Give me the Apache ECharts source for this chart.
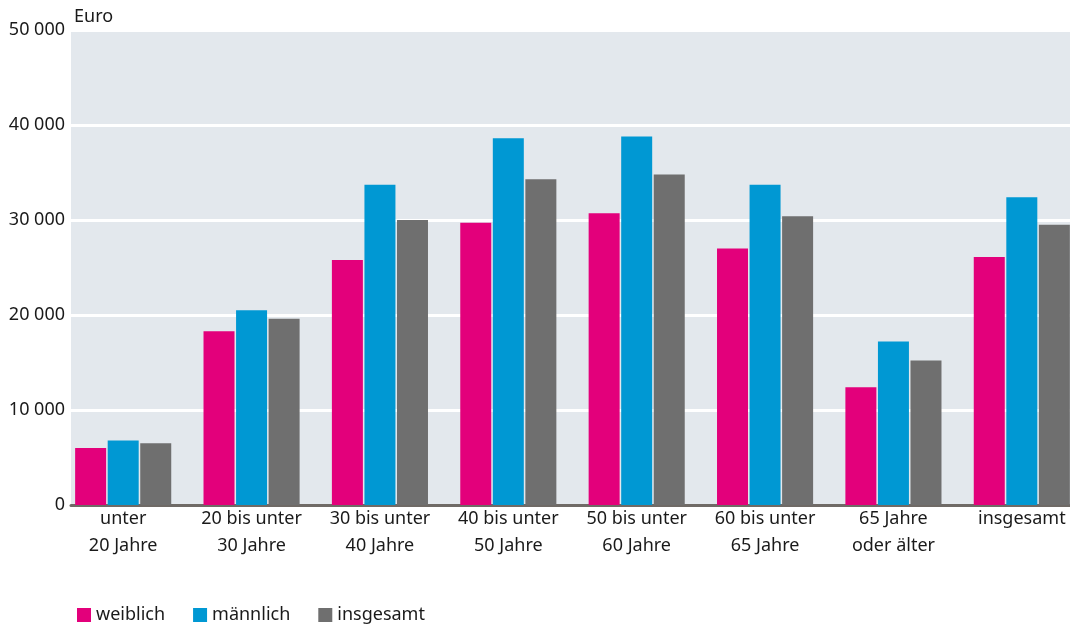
<!DOCTYPE html>
<html>
<head>
<meta charset="utf-8">
<script src="https://cdn.jsdelivr.net/npm/echarts@6/dist/echarts.min.js"></script>
<style>
  html, body { margin: 0; padding: 0; background: #fff; }
  #chart { width: 1070px; height: 628px; }
</style>
</head>
<body>
<div id="chart"></div>
<script>
var categories = ['unter\n20 Jahre', '20 bis unter\n30 Jahre', '30 bis unter\n40 Jahre', '40 bis unter\n50 Jahre',
  '50 bis unter\n60 Jahre', '60 bis unter\n65 Jahre', '65 Jahre\noder älter', 'insgesamt'];
var weiblich = [6000, 18300, 25800, 29700, 30700, 27000, 12400, 26100];
var maennlich = [6800, 20500, 33700, 38600, 38800, 33700, 17200, 32400];
var insgesamt = [6500, 19600, 30000, 34300, 34800, 30400, 15200, 29500];

var FONT = '"Noto Sans"';
var myChart = echarts.init(document.getElementById('chart'));

function fmt(v) {
  return String(v).replace(/\B(?=(\d{3})+(?!\d))/g, ' ');
}

function bar(name, data, color) {
  return {
    name: name,
    type: 'bar',
    xAxisIndex: 1,
    yAxisIndex: 1,
    data: data,
    barWidth: 31,
    barGap: '5%',
    itemStyle: { color: color }
  };
}

option = {
  animation: false,
  textStyle: { fontFamily: FONT },
  title: {
    text: 'Euro',
    left: 74,
    top: 8,
    padding: 0,
    textStyle: { fontSize: 18, fontWeight: 'normal', color: '#1a1a1a', fontFamily: FONT }
  },
  legend: {
    left: 72,
    top: 601,
    itemWidth: 14,
    itemHeight: 14,
    itemGap: 28,
    icon: 'rect',
    textStyle: { fontSize: 18, color: '#1a1a1a', fontFamily: FONT },
    data: ['weiblich', 'männlich', 'insgesamt']
  },
  grid: [
    // background grid: gray area, gridlines, y labels, axis line
    { left: 71, top: 30, width: 999, height: 475, show: true, backgroundColor: '#e3e8ed', borderWidth: 0, outerBoundsMode: 'none' },
    // bar grid, wider than the page so the last group reaches the edge
    { left: 59, top: 30, width: 1027, height: 475, outerBoundsMode: 'none' }
  ],
  xAxis: [
    {
      type: 'category',
      gridIndex: 0,
      data: categories,
      axisLine: { lineStyle: { color: '#6f6a66', width: 3 } },
      axisTick: { show: false },
      axisLabel: { show: false }
    },
    {
      type: 'category',
      gridIndex: 1,
      data: categories,
      axisLine: { show: false },
      axisTick: { show: false },
      axisLabel: {
        interval: 0,
        hideOverlap: false,
        margin: 0,
        fontSize: 18,
        lineHeight: 27,
        color: '#1a1a1a',
        fontFamily: FONT
      }
    }
  ],
  yAxis: [
    {
      type: 'value',
      gridIndex: 0,
      min: 0,
      max: 50000,
      interval: 10000,
      axisLine: { show: false },
      axisTick: { show: false },
      axisLabel: {
        margin: 6,
        fontSize: 18,
        color: '#1a1a1a',
        fontFamily: FONT,
        formatter: fmt
      },
      splitLine: { lineStyle: { color: '#ffffff', width: 3 } }
    },
    {
      type: 'value',
      gridIndex: 1,
      min: 0,
      max: 50000,
      interval: 10000,
      show: false,
      splitLine: { show: false }
    }
  ],
  series: [
    bar('weiblich', weiblich, '#e3007b'),
    bar('männlich', maennlich, '#0098d3'),
    bar('insgesamt', insgesamt, '#6f6f6f')
  ]
};
myChart.setOption(option);
</script>
</body>
</html>
